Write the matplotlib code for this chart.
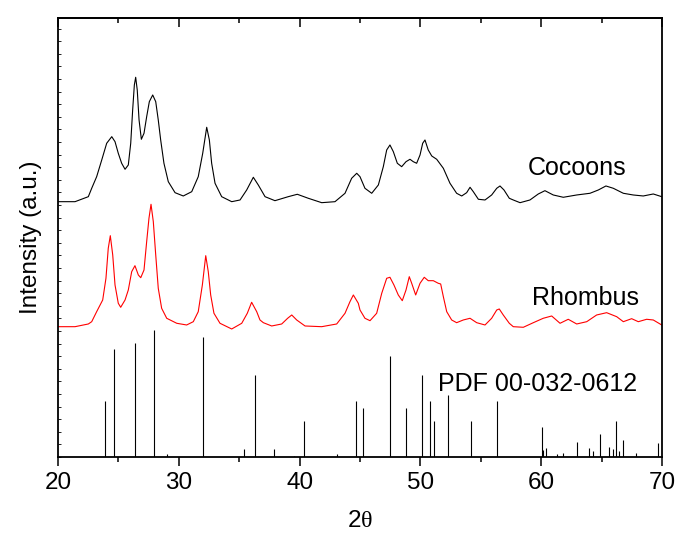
import matplotlib
matplotlib.use("Agg")
import matplotlib.pyplot as plt
from matplotlib.ticker import MultipleLocator

plt.rcParams['font.family'] = ['Liberation Sans', 'DejaVu Sans']
plt.rcParams['mathtext.fontset'] = 'custom'
plt.rcParams['mathtext.rm'] = 'Liberation Serif'

# Cocoons pattern (black), 2theta / intensity (a.u., offset included)
cocoons_2t = [20.02, 21.41, 22.51, 22.79, 23.20, 23.62, 24.03, 24.45, 24.72, 24.99,
              25.27, 25.55, 25.82, 26.02, 26.18, 26.32, 26.43, 26.56, 26.71, 26.90,
              27.12, 27.34, 27.56, 27.84, 28.09, 28.30, 28.50, 28.77, 29.13, 29.69,
              30.37, 31.07, 31.61, 31.98, 32.31, 32.53, 32.72, 33.00, 33.55, 34.38,
              35.07, 35.62, 36.17, 36.58, 37.14, 37.96, 39.06, 39.81, 40.72, 41.83,
              42.93, 43.76, 44.31, 44.73, 45.00, 45.41, 45.97, 46.52, 46.93, 47.21,
              47.48, 47.76, 48.09, 48.45, 48.81, 49.14, 49.41, 49.69, 49.97, 50.19,
              50.38, 50.65, 50.94, 51.35, 51.90, 52.45, 53.00, 53.42, 53.83, 54.11,
              54.38, 54.80, 55.35, 55.90, 56.32, 56.59, 56.92, 57.36, 57.69, 58.25,
              59.07, 59.76, 60.31, 61.00, 61.83, 62.94, 64.04, 64.73, 65.36, 65.97,
              66.80, 67.62, 68.45, 69.28, 69.98]
cocoons_int = [255.3, 255.3, 260.3, 268.7, 280.3, 297.0, 313.7, 320.3, 315.3, 303.7,
               293.7, 287.7, 292.0, 313.7, 347.0, 372.0, 379.7, 367.0, 337.0, 317.7,
               323.7, 340.3, 355.3, 362.0, 355.3, 337.0, 317.0, 293.7, 275.3, 264.3,
               261.0, 265.3, 280.3, 303.7, 329.7, 317.0, 293.7, 273.7, 260.3, 255.3,
               257.0, 267.0, 279.7, 272.0, 260.3, 256.3, 260.3, 262.7, 258.7, 254.3,
               255.3, 263.7, 278.7, 283.7, 280.3, 268.7, 263.7, 272.0, 290.3, 307.0,
               312.0, 305.3, 293.7, 290.3, 295.3, 297.7, 295.3, 293.7, 302.0, 313.7,
               317.0, 307.0, 301.0, 297.7, 288.7, 273.7, 263.7, 261.0, 264.3, 269.7,
               265.3, 257.7, 257.0, 262.0, 268.7, 271.0, 267.0, 258.7, 257.0, 254.3,
               257.0, 263.0, 266.3, 262.0, 259.7, 262.0, 263.7, 267.0, 271.0, 268.7,
               263.7, 262.0, 261.0, 263.0, 260.3]

# Rhombus pattern (red)
rhombus_2t = [20.02, 21.41, 22.51, 22.79, 23.20, 23.70, 23.97, 24.16, 24.33, 24.53,
              24.72, 24.99, 25.19, 25.55, 25.82, 26.10, 26.37, 26.65, 26.85, 27.12,
              27.34, 27.53, 27.70, 27.89, 28.09, 28.30, 28.58, 29.00, 29.83, 30.65,
              31.20, 31.61, 31.95, 32.23, 32.44, 32.64, 32.91, 33.41, 34.38, 35.21,
              35.67, 36.03, 36.45, 36.72, 37.00, 37.69, 38.52, 39.01, 39.35, 39.76,
              40.45, 41.83, 43.07, 43.76, 44.17, 44.45, 44.86, 45.00, 45.41, 45.83,
              46.38, 46.80, 47.21, 47.48, 47.81, 48.17, 48.50, 48.81, 49.08, 49.28,
              49.61, 49.97, 50.32, 50.65, 51.07, 51.48, 51.68, 51.90, 52.18, 52.59,
              53.00, 53.55, 54.11, 54.66, 55.35, 55.90, 56.32, 56.53, 56.86, 57.36,
              57.69, 58.52, 59.35, 60.17, 60.87, 61.56, 62.24, 62.94, 63.77, 64.59,
              65.42, 66.25, 66.80, 67.49, 68.04, 68.73, 69.28, 69.98]
rhombus_int = [130.3, 130.3, 133.0, 135.3, 145.3, 157.0, 178.7, 208.7, 221.3, 202.0,
               172.0, 153.7, 149.7, 157.0, 167.0, 185.3, 191.3, 182.0, 179.3, 187.0,
               215.3, 238.7, 252.7, 235.3, 202.0, 168.7, 148.7, 138.7, 133.7, 132.0,
               135.3, 145.3, 172.0, 201.3, 185.3, 162.0, 143.7, 133.7, 128.0, 133.7,
               143.7, 154.7, 145.3, 137.0, 134.3, 131.0, 133.0, 138.7, 142.0, 137.0,
               131.0, 130.3, 133.0, 143.7, 155.3, 162.0, 153.7, 147.0, 138.7, 136.3,
               143.7, 163.7, 178.7, 179.7, 172.0, 162.0, 156.3, 167.0, 180.3, 173.7,
               162.0, 173.7, 179.7, 176.3, 176.3, 173.7, 173.0, 160.3, 145.3, 137.0,
               134.3, 137.0, 138.7, 134.3, 132.0, 138.7, 147.0, 148.0, 142.0, 133.7,
               130.3, 129.7, 134.3, 138.7, 141.0, 133.7, 137.7, 133.0, 135.3, 142.0,
               144.3, 140.3, 135.3, 138.3, 135.3, 137.7, 137.0, 132.0]

# reference pattern PDF 00-032-0612 (stick positions and heights)
pdf_2t = [23.89, 24.64, 26.35, 27.97, 29.02, 31.98, 35.42, 36.33, 37.91, 39.56,
          40.34, 43.07, 44.67, 45.21, 47.51, 48.83, 50.13, 50.77, 51.15, 52.31,
          54.21, 56.32, 60.09, 60.17, 60.37, 61.33, 61.83, 62.99, 63.93, 64.26,
          64.87, 65.59, 65.92, 66.19, 66.42, 66.77, 67.87, 69.69]
pdf_int = [56, 108, 114, 127, 3, 120, 8, 82, 8, 1,
           36, 3, 56, 49, 101, 49, 82, 56, 36, 62,
           36, 56, 30, 7, 9, 3, 4, 15, 9, 6,
           23, 10, 8, 36, 6, 17, 4, 14]

fig = plt.figure(figsize=(6.8, 5.43), dpi=100)
ax = fig.add_axes([0.0853, 0.1584, 0.8882, 0.8085])

ax.plot(cocoons_2t, cocoons_int, color='black', lw=0.8, solid_joinstyle='round')
ax.plot(rhombus_2t, rhombus_int, color='red', lw=0.8, solid_joinstyle='round')
ax.vlines(pdf_2t, 0, pdf_int, color='black', lw=0.8)

ax.text(62.96, 289, 'Cocoons', fontsize=18, ha='center', va='center')
ax.text(63.7, 158.7, 'Rhombus', fontsize=18, ha='center', va='center')
ax.text(59.74, 73, 'PDF 00-032-0612', fontsize=18, ha='center', va='center')

ax.set_xlim(20, 70)
ax.set_ylim(0, 439)
ax.xaxis.set_major_locator(MultipleLocator(10))
ax.xaxis.set_minor_locator(MultipleLocator(5))
ax.yaxis.set_major_locator(MultipleLocator(12.6))
ax.set_yticklabels([])

ax.tick_params(axis='x', which='both', direction='out', top=False, labelsize=17.5,
               width=1.1, pad=4)
ax.tick_params(axis='x', which='major', length=6.5)
ax.tick_params(axis='x', which='minor', length=3.6)
ax.tick_params(axis='y', which='major', direction='in', length=2, width=0.6,
               left=True, right=False)

# inward ticks along the top edge
top = ax.secondary_xaxis('top')
top.xaxis.set_major_locator(MultipleLocator(10))
top.xaxis.set_minor_locator(MultipleLocator(5))
top.tick_params(which='both', direction='in', labeltop=False, width=1.1)
top.tick_params(which='major', length=6.5)
top.tick_params(which='minor', length=3.6)
top.spines['top'].set_linewidth(1.3)

for s in ax.spines.values():
    s.set_linewidth(1.3)

ax.set_xlabel(r'2$\mathrm{\theta}$', fontsize=17.5, labelpad=12)
ax.set_ylabel('Intensity (a.u.)', fontsize=17.5, labelpad=8)

fig.savefig('out.png', dpi=100)
